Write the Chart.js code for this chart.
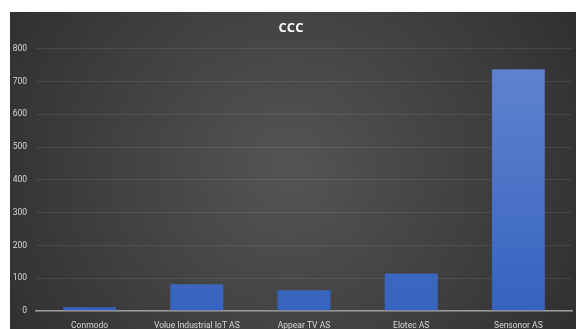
<!DOCTYPE html>
<html>
<head>
<meta charset="utf-8">
<script src="https://cdn.jsdelivr.net/npm/chart.js@4"></script>
<style>
  html, body { margin: 0; padding: 0; background: #fff; }
  #wrap { width: 576px; height: 329px; }
</style>
</head>
<body>
<div id="wrap"><canvas id="chart1" width="576" height="329"></canvas></div>
<script>
const companies = ['Conmodo', 'Volue Industrial IoT AS', 'Appear TV AS', 'Elotec AS', 'Sensonor AS'];
const values = [12, 82, 64, 115, 738];
const chartTitle = 'CCC';

// dark backdrop behind the whole chart, like the office theme
const backdrop = {
    id: 'backdrop',
    beforeDraw(chart) {
        const c = chart.ctx;
        const w = chart.width, h = chart.height;
        const g = c.createRadialGradient(290, 170, 20, 290, 170, 360);
        g.addColorStop(0, '#525252');
        g.addColorStop(1, '#2c2c2c');
        c.save();
        c.fillStyle = g;
        c.fillRect(10, 12, w - 10, h - 12);
        c.restore();
    }
};

const barFill = (context) => {
    const area = context.chart.chartArea;
    if (!area) return '#4a72c4';
    const g = context.chart.ctx.createLinearGradient(0, area.top, 0, area.bottom);
    g.addColorStop(0, '#6285d0');
    g.addColorStop(1, '#3663bf');
    return g;
};

const ctx = document.getElementById('chart1');
new Chart(ctx, {
    type: 'bar',
    data: {
        labels: companies,
        datasets: [{
            label: chartTitle,
            data: values,
            backgroundColor: barFill,
            borderColor: '#3a5fa8',
            borderWidth: 0.5,
            categoryPercentage: 1,
            barPercentage: 0.5
        }]
    },
    options: {
        responsive: false,
        animation: false,
        layout: { padding: { left: 10, right: 4, top: 12 } },
        plugins: {
            legend: { display: false },
            tooltip: { enabled: false },
            title: {
                display: true,
                text: chartTitle,
                color: '#ffffff',
                font: { family: 'Open Sans', size: 13, weight: 'bold' },
                padding: { top: 8, bottom: 13 }
            }
        },
        scales: {
            x: {
                grid: { display: false },
                border: { color: '#9a9a9a', width: 1.5 },
                ticks: {
                    color: '#d9d9d9',
                    font: { family: 'Roboto', size: 8.5 },
                    padding: 2,
                    maxRotation: 0
                },
                afterFit(scale) { scale.height = 18; }
            },
            y: {
                min: 0,
                max: 800,
                grid: { color: 'rgba(255,255,255,0.09)', drawTicks: false },
                border: { display: false },
                ticks: {
                    stepSize: 100,
                    color: '#d9d9d9',
                    font: { family: 'Roboto', size: 8.5 },
                    padding: 9
                },
                afterFit(scale) { scale.width = 26; }
            }
        }
    },
    plugins: [backdrop]
});
</script>
</body>
</html>
